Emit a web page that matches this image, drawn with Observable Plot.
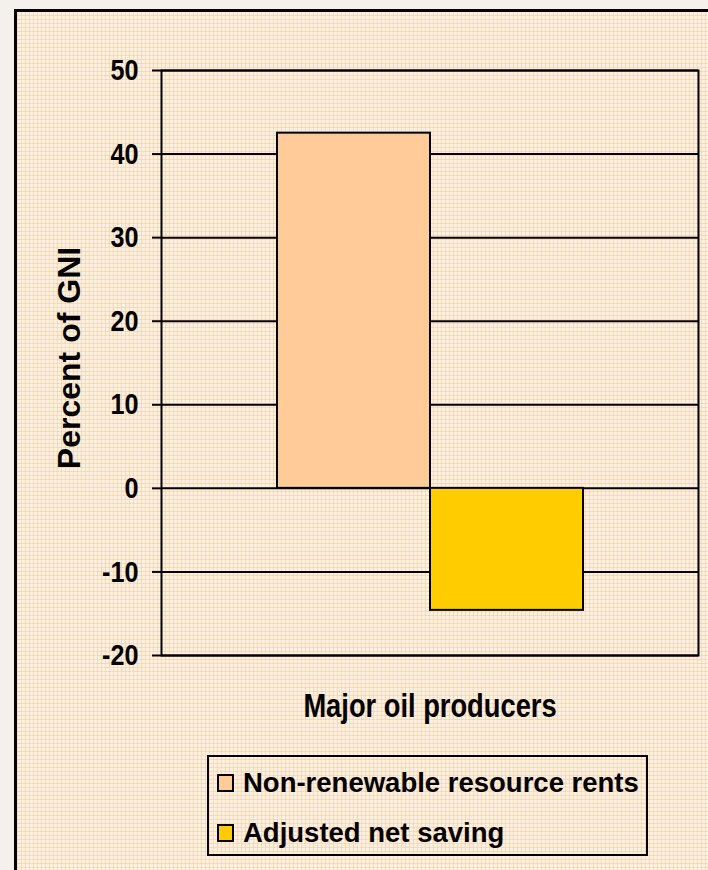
<!DOCTYPE html>
<html>
<head>
<meta charset="utf-8">
<script src="https://cdn.jsdelivr.net/npm/d3@7"></script>
<script src="https://cdn.jsdelivr.net/npm/@observablehq/plot@0.6"></script>
<style>
  html, body { margin: 0; padding: 0; background: #f4f0ec; }
  #page { position: relative; width: 708px; height: 870px; overflow: hidden; background: #f4f0ec; font-family: "Liberation Sans", Arial, sans-serif; }
  #frame {
    position: absolute; left: 14px; top: 9px; width: 720px; height: 900px;
    border-left: 3px solid #000; border-top: 3px solid #000;
    background-color: #fdf0e4;
    background-image:
      repeating-linear-gradient(0deg, rgba(250,200,152,0.55) 0 1px, transparent 1px 4px),
      repeating-linear-gradient(90deg, rgba(250,200,152,0.55) 0 1px, transparent 1px 4px);
  }
  #chart { position: absolute; left: 0; top: 0; }
  #legend {
    position: absolute; left: 207px; top: 755px; width: 437px; height: 97px;
    border: 2px solid #000; font-weight: bold; font-size: 27.5px; color: #000;
  }
  .row { position: absolute; left: 8px; display: flex; align-items: center; height: 30px; }
  .sw { width: 13px; height: 14px; border: 2px solid #000; margin-right: 9px; }
</style>
</head>
<body>
<div id="page">
  <div id="frame"></div>
  <div id="chart"></div>
  <div id="legend"></div>
</div>
<script>
const categories = ["Major oil producers"];
const series = ["Non-renewable resource rents", "Adjusted net saving"];
const values = [42.5, -14.6];
const colors = ["#ffcc99", "#ffcc00"];
const yTicks = [-20, -10, 0, 10, 20, 30, 40, 50];
const yTitle = "Percent of GNI";

const data = series.map((s, i) => ({group: categories[0], series: s, value: values[i]}));

const chart = Plot.plot({
  width: 708, height: 730,
  marginLeft: 161, marginRight: 10, marginTop: 70, marginBottom: 75,
  style: {background: "transparent", fontFamily: "'Liberation Sans', Arial, sans-serif", fontWeight: "bold", fontSize: "25px", color: "black", overflow: "visible"},
  fx: {domain: categories, padding: 0, label: null},
  x: {domain: series, paddingInner: 0, paddingOuter: 0.749, axis: null},
  y: {domain: [-20, 50], label: null},
  color: {domain: series, range: colors},
  marks: [
    Plot.gridY(yTicks, {stroke: "black", strokeOpacity: 1, strokeWidth: 2}),
    Plot.frame({stroke: "black", strokeWidth: 2}),
    Plot.barY(data, {fx: "group", x: "series", y: "value", fill: "series", stroke: "black", strokeWidth: 2}),
    Plot.axisY(yTicks, {tickSize: 9, tickPadding: 14, strokeWidth: 2, label: null, fontSize: 30, tickFormat: d => String(d)}),
    Plot.axisFx({anchor: "bottom", tickSize: 0, tickPadding: 38, label: null, fontSize: 32.5}),
    Plot.text([yTitle], {frameAnchor: "left", textAnchor: "middle", rotate: -90, dx: -92, dy: -5, fontSize: 32, fontWeight: "bold", fill: "black"})
  ]
});
// condensed look of the tick labels (horizontal squeeze around each label's anchor)
chart.querySelectorAll('g[aria-label="y-axis tick label"] text, g[aria-label="fx-axis tick label"] text').forEach(t => {
  const tr = t.getAttribute("transform") || "";
  t.setAttribute("transform", tr + " scale(0.84,1)");
});
document.getElementById("chart").appendChild(chart);

const legend = document.getElementById("legend");
series.forEach((s, i) => {
  const row = document.createElement("div");
  row.className = "row";
  row.style.top = (11 + i * 50) + "px";
  const sw = document.createElement("div");
  sw.className = "sw";
  sw.style.background = colors[i];
  const t = document.createElement("span");
  t.textContent = s;
  row.appendChild(sw);
  row.appendChild(t);
  legend.appendChild(row);
});
</script>
</body>
</html>
